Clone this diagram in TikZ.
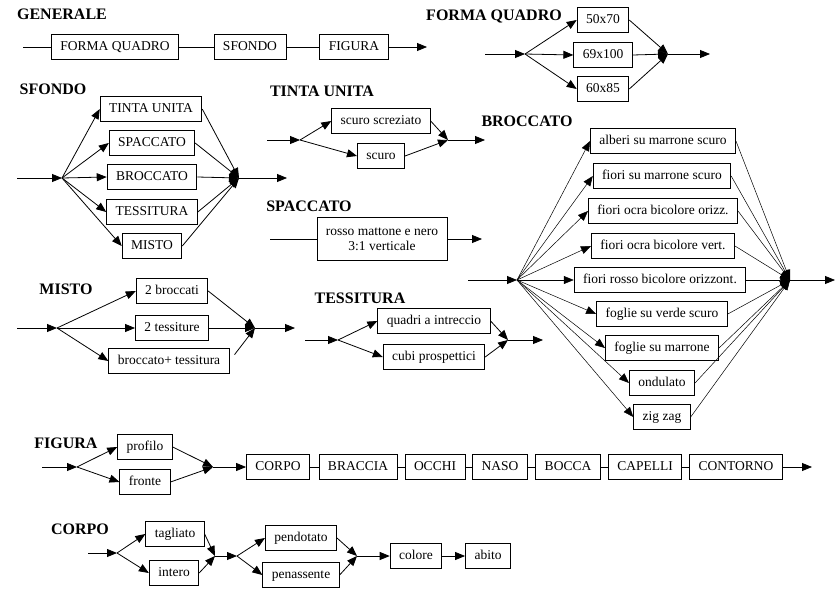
\documentclass[tikz,border=0pt]{standalone}
\usepackage{fontspec}
\setmainfont{Liberation Serif}
\usetikzlibrary{arrows.meta}

\tikzset{
    box/.style={
        rectangle, draw=black, line width=0.8pt,
        inner xsep=9pt, inner ysep=0pt,
        font=\fontsize{13.5}{15}\selectfont,
    },
    cell/.style={
        box, minimum height=25pt,
        text height=9pt, text depth=3pt,
    },
    title/.style={font=\fontsize{16}{18}\selectfont\bfseries},
    link/.style={line width=0.8pt},
    arr/.style={link, -{Triangle[length=10pt,width=8pt]}},
    finearr/.style={line width=0.5pt, -{Triangle[length=10pt,width=8pt]}},
}

\begin{document}
\begin{tikzpicture}[x=1pt, y=-1pt]
        \useasboundingbox (0,0) rectangle (836,592);

        \node (gen) at(62,14) [title] {GENERALE};
        \coordinate (gen-in) at(23,47);
        \coordinate (gen-out) at(427,47);
        \node (gen-fq) at(115,47) [cell] {FORMA QUADRO};
        \node (gen-sf) at(250,47) [cell] {SFONDO};
        \node (gen-fi) at(354,47) [cell] {FIGURA};
        \draw[link] (gen-in) -- (gen-fq) (gen-fq) -- (gen-sf) (gen-sf) -- (gen-fi);
        \draw[arr] (gen-fi) -- (gen-out);

        \node (fq) at(494,16) [title] {FORMA QUADRO};
        \coordinate (fq-in) at(485,54);
        \coordinate (fq-s) at(525,54);
        \coordinate (fq-m) at(668,54);
        \coordinate (fq-out) at(710,54);
        \node (fq1) at(603,20) [cell] {50x70};
        \node (fq2) at(603,55) [cell] {69x100};
        \node (fq3) at(603,89) [cell] {60x85};
        \draw[arr] (fq-in) -- (fq-s);
        \foreach \b in {1,2,3} {
            \draw[arr] (fq-s) -- (fq\b.west);
            \draw[arr] (fq\b.east) -- (fq-m);
        }
        \draw[arr] (fq-m) -- (fq-out);

        \node (sf) at(53,89) [title] {SFONDO};
        \coordinate (sf-in) at(17,178);
        \coordinate (sf-s) at(62,178);
        \coordinate (sf-m) at(239,178);
        \coordinate (sf-out) at(287,178);
        \node (sf1) at(151,109) [cell] {TINTA UNITA};
        \node (sf2) at(152,143) [cell] {SPACCATO};
        \node (sf3) at(152,177) [cell] {BROCCATO};
        \node (sf4) at(152,212) [cell] {TESSITURA};
        \node (sf5) at(152,246) [cell] {MISTO};
        \draw[arr] (sf-in) -- (sf-s);
        \foreach \b in {1,...,5} {
            \draw[arr] (sf-s) -- (sf\b.west);
            \draw[arr] (sf\b.east) -- (sf-m);
        }
        \draw[arr] (sf-m) -- (sf-out);

        \node (tu) at(322,91) [title] {TINTA UNITA};
        \coordinate (tu-in) at(267,140);
        \coordinate (tu-s) at(300,140);
        \coordinate (tu-m) at(448,140);
        \coordinate (tu-out) at(485,140);
        \node (tu1) at(381,121) [cell] {scuro screziato};
        \node (tu2) at(381,156) [cell] {scuro};
        \draw[arr] (tu-in) -- (tu-s);
        \foreach \b in {1,2} {
            \draw[arr] (tu-s) -- (tu\b.west);
            \draw[arr] (tu\b.east) -- (tu-m);
        }
        \draw[arr] (tu-m) -- (tu-out);

        \node (sp) at(309,206) [title] {SPACCATO};
        \coordinate (sp-in) at(270,239);
        \coordinate (sp-out) at(482,239);
        \node (sp1) at(382,239) [box, align=center, minimum height=43pt]
            {rosso mattone e nero\\3:1 verticale};
        \draw[link] (sp-in) -- (sp1);
        \draw[arr] (sp1) -- (sp-out);

        \node (br) at(527,121) [title] {BROCCATO};
        \coordinate (br-in) at(468,280);
        \coordinate (br-s) at(517,280);
        \coordinate (br-m) at(790,280);
        \coordinate (br-out) at(835,280);
        \node (br1) at(663,141) [cell] {alberi su marrone scuro};
        \node (br2) at(662,176) [cell] {fiori su marrone scuro};
        \node (br3) at(663,211) [cell] {fiori ocra bicolore orizz.};
        \node (br4) at(663,246) [cell] {fiori ocra bicolore vert.};
        \node (br5) at(660,280) [cell] {fiori rosso bicolore orizzont.};
        \node (br6) at(662,314) [cell] {foglie su verde scuro};
        \node (br7) at(662,348) [cell] {foglie su marrone};
        \node (br8) at(662,383) [cell] {ondulato};
        \node (br9) at(662,417) [cell] {zig zag};
        \draw[arr] (br-in) -- (br-s);
        \foreach \b in {1,...,9} {
            \draw[finearr] (br-s) -- (br\b.west);
            \draw[finearr] (br\b.east) -- (br-m);
        }
        \draw[arr] (br-m) -- (br-out);

        \node (mi) at(66,289) [title] {MISTO};
        \coordinate (mi-in) at(17,328);
        \coordinate (mi-s) at(57,328);
        \coordinate (mi-m) at(255,328);
        \coordinate (mi-out) at(295,328);
        \node (mi1) at(172,291) [cell] {2 broccati};
        \node (mi2) at(172,328) [cell] {2 tessiture};
        \node (mi3) at(169,361) [cell] {broccato+ tessitura};
        \draw[arr] (mi-in) -- (mi-s);
        \foreach \b in {1,2,3}
            \draw[arr] (mi-s) -- (mi\b.west);
        \draw[arr] (mi1.east) -- (mi-m);
        \draw[arr] (mi2.east) -- (mi-m);
        \draw[arr, shorten <=8pt] (mi3.east) -- (mi-m);
        \draw[arr] (mi-m) -- (mi-out);

        \node (te) at(360,298) [title] {TESSITURA};
        \coordinate (te-in) at(305,340);
        \coordinate (te-s) at(338,340);
        \coordinate (te-m) at(508,340);
        \coordinate (te-out) at(543,340);
        \node (te1) at(434,321) [cell] {quadri a intreccio};
        \node (te2) at(434,357) [cell] {cubi prospettici};
        \draw[arr] (te-in) -- (te-s);
        \foreach \b in {1,2} {
            \draw[arr] (te-s) -- (te\b.west);
            \draw[arr] (te\b.east) -- (te-m);
        }
        \draw[arr] (te-m) -- (te-out);

        \node (fi) at(66,443) [title] {FIGURA};
        \coordinate (fi-in) at(42,467);
        \coordinate (fi-s) at(77,467);
        \coordinate (fi-m) at(213,467);
        \coordinate (fi-out) at(812,467);
        \node (fi1) at(145,447) [cell] {profilo};
        \node (fi2) at(145,482) [cell] {fronte};
        \draw[arr] (fi-in) -- (fi-s);
        \foreach \b in {1,2} {
            \draw[arr] (fi-s) -- (fi\b.west);
            \draw[arr] (fi\b.east) -- (fi-m);
        }
        \node (fi-corpo) at(278,467) [cell] {CORPO};
        \node (fi-braccia) at(358,467) [cell] {BRACCIA};
        \node (fi-occhi) at(435,467) [cell] {OCCHI};
        \node (fi-naso) at(500,467) [cell] {NASO};
        \node (fi-bocca) at(568,467) [cell] {BOCCA};
        \node (fi-capelli) at(645,467) [cell] {CAPELLI};
        \node (fi-contorno) at(736,467) [cell] {CONTORNO};
        \draw[arr] (fi-m) -- (fi-corpo);
        \draw[link] (fi-corpo) -- (fi-braccia) (fi-braccia) -- (fi-occhi)
            (fi-occhi) -- (fi-naso) (fi-naso) -- (fi-bocca)
            (fi-bocca) -- (fi-capelli) (fi-capelli) -- (fi-contorno);
        \draw[arr] (fi-contorno) -- (fi-out);

        \node (co) at(80,529) [title] {CORPO};
        \coordinate (co-in) at(88,553);
        \coordinate (co-s) at(117,553);
        \coordinate (co-m) at(215,556);
        \coordinate (co-t) at(237,556);
        \coordinate (co-n) at(357,556);
        \node (co1) at(175,534) [cell] {tagliato};
        \node (co2) at(174,573) [cell] {intero};
        \node (co3) at(301,538) [cell] {pendotato};
        \node (co4) at(301,575) [cell] {penassente};
        \node (co-colore) at(416,556) [cell] {colore};
        \node (co-abito) at(488,556) [cell] {abito};
        \draw[arr] (co-in) -- (co-s);
        \foreach \b in {1,2} {
            \draw[arr] (co-s) -- (co\b.west);
            \draw[arr] (co\b.east) -- (co-m);
        }
        \draw[arr] (co-m) -- (co-t);
        \foreach \b in {3,4} {
            \draw[arr] (co-t) -- (co\b.west);
            \draw[arr] (co\b.east) -- (co-n);
        }
        \draw[arr] (co-n) -- (co-colore);
        \draw[arr] (co-colore) -- (co-abito);
    \end{tikzpicture}
\end{document}
